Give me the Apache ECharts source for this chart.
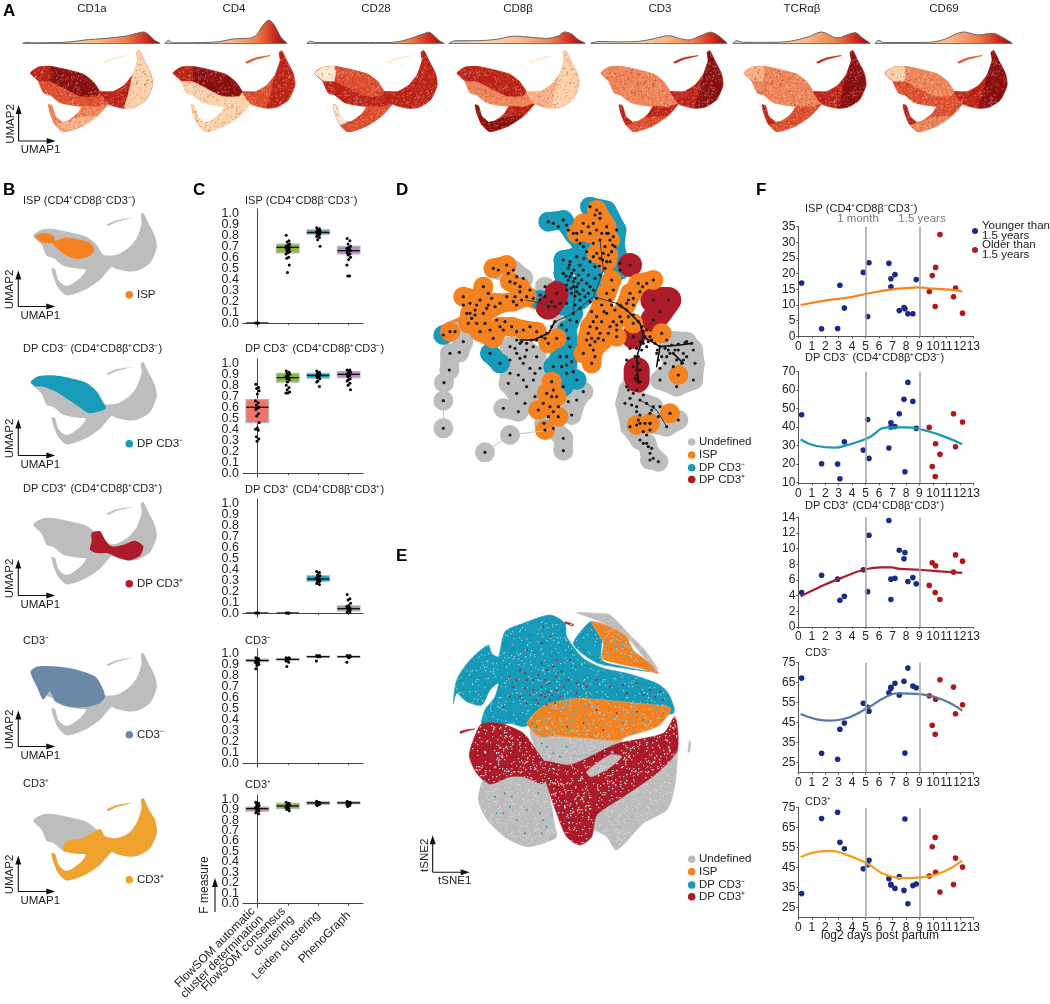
<!DOCTYPE html>
<html>
<head>
<meta charset="utf-8">
<title>Thymocyte clustering figure</title>
<script src="https://cdn.jsdelivr.net/npm/echarts@6/dist/echarts.min.js"></script>
<style>html,body{margin:0;padding:0;background:#fff}#chart{width:1050px;height:1004px}</style>
</head>
<body>
<div id="chart"></div>
<script>
// ---- panel A: markers and density ridges (x = fraction of range, y = relative density)
var markers = ['CD1a', 'CD4', 'CD28', 'CD8β', 'CD3', 'TCRαβ', 'CD69'];
var ridgeCD1a = [[0,0],[.03,.03],[.06,.01],[.25,.02],[.35,.05],[.45,.13],[.6,.2],[.75,.3],[.83,.42],[.88,.48],[.92,.35],[.96,.12],[1,0]];
var ridgeCD4 = [[0,0],[.03,.12],[.06,.01],[.3,.02],[.45,.06],[.55,.17],[.65,.2],[.7,.22],[.75,.35],[.8,.75],[.85,1],[.9,.75],[.95,.25],[1,0]];
var ridgeCD28 = [[0,0],[.03,.08],[.06,.02],[.5,.02],[.6,.02],[.7,.1],[.78,.25],[.85,.4],[.89,.47],[.93,.3],[.97,.08],[1,0]];
var ridgeCD8b = [[0,0],[.05,.1],[.2,.1],[.35,.16],[.48,.3],[.6,.25],[.72,.2],[.8,.3],[.85,.48],[.9,.4],[.95,.15],[1,0]];
var ridgeCD3 = [[0,0],[.06,.07],[.2,.05],[.35,.07],[.45,.17],[.57,.32],[.65,.2],[.72,.13],[.8,.3],[.88,.47],[.93,.35],[1,0]];
var ridgeTCR = [[0,0],[.03,.1],[.07,.03],[.3,.03],[.42,.08],[.55,.27],[.646,.48],[.76,.22],[.89,.45],[.95,.2],[1,0]];
var ridgeCD69 = [[0,0],[.03,.12],[.06,.02],[.4,.03],[.5,.15],[.65,.48],[.75,.35],[.86,.42],[.93,.25],[1,0]];
var ridges = [ridgeCD1a, ridgeCD4, ridgeCD28, ridgeCD8b, ridgeCD3, ridgeTCR, ridgeCD69];

// UMAP outline and sub regions, in UMAP units of the plot
var umapOutline = [[100,168],[125,150],[160,148],[210,158],[260,172],[290,195],[310,225],[350,225],[385,205],[410,175],[425,130],[422,105],[430,100],[445,130],[465,170],[470,205],[450,250],[415,272],[385,275],[350,268],[335,262],[300,300],[255,330],[200,347],[175,325],[160,290],[155,265],[165,268],[175,300],[195,318],[212,315],[245,290],[258,270],[240,268],[190,258],[160,235],[140,228],[125,195]];
var umapStreak = [[320,135],[350,122],[395,115],[350,127],[325,138]];
var regLobe = [[100,168],[125,150],[160,148],[165,165],[160,195],[130,195],[118,185]];
var regCore = [[160,148],[210,158],[260,172],[290,195],[310,225],[300,240],[250,240],[200,215],[160,195],[165,165]];
var regMid = [[125,195],[130,195],[160,195],[200,215],[250,240],[300,240],[312,228],[335,262],[300,272],[258,270],[240,268],[190,258],[160,235],[140,228]];
var regWingIn = [[310,225],[350,225],[385,205],[410,175],[395,240],[385,275],[350,268],[335,262]];
var regWingOut = [[410,175],[425,130],[422,105],[430,100],[445,130],[465,170],[470,205],[450,250],[415,272],[385,275],[395,240]];
var regArmUp = [[335,262],[300,272],[258,270],[245,290],[235,305],[300,300]];
var regArmLow = [[235,305],[300,300],[255,330],[200,347],[175,325],[195,318],[212,315]];
var regTail = [[155,265],[165,268],[175,300],[195,318],[175,325],[160,290]];
var umapRegions = [regLobe, regCore, regMid, regWingIn, regWingOut, regArmUp, regArmLow, regTail, umapStreak];

// expression level (0..6) per region, same order as umapRegions
var levelCD1a = [5,6,4,5,1,3,2,3,0];
var levelCD4 = [5,6,1,4,5,1,1,1,4];
var levelCD28 = [0,4,5,5,5,4,4,0,0];
var levelCD8b = [5,5,3,2,1,5,6,6,0];
var levelCD3 = [3,3,3,5,6,5,4,5,5];
var levelTCR = [2,3,3,5,6,4,4,5,5];
var levelCD69 = [1,3,4,5,6,4,3,5,4];
var markerLevels = [levelCD1a, levelCD4, levelCD28, levelCD8b, levelCD3, levelTCR, levelCD69];

// ---- panel B: gated populations on the UMAP
var gateISP = [[[105,170],[130,160],[160,168],[165,190],[135,190],[118,183]],
  [[160,190],[190,175],[230,178],[270,190],[283,210],[270,228],[230,238],[195,225],[170,205]]];
var gateDPneg = [[[92,160],[115,143],[160,140],[210,148],[260,163],[290,188],[305,213],[318,238],[300,248],[265,253],[235,233],[205,213],[165,188],[125,173],[105,173]]];
var gateDPpos = [[[275,193],[300,188],[315,213],[335,233],[370,228],[405,216],[430,233],[420,261],[385,275],[350,265],[320,253],[290,253],[270,243],[275,218]]];
var gateCD3neg = [[[92,155],[115,140],[165,140],[230,150],[285,170],[305,200],[315,230],[300,250],[260,262],[210,262],[165,245],[150,215],[130,240],[110,200],[100,180]]];
var gateCD3pos = [[[200,230],[250,220],[300,193],[315,215],[350,220],[390,205],[410,175],[425,130],[425,105],[432,103],[445,135],[465,165],[470,205],[450,250],[415,272],[385,275],[350,268],[335,262],[300,300],[255,330],[200,347],[175,325],[160,290],[155,265],[165,268],[175,300],[195,318],[212,315],[245,290],[258,270],[240,268],[190,258]],
  [[320,135],[350,122],[395,115],[350,127],[325,138]]];
var gateNames = ['ISP (CD4⁺CD8β⁻CD3⁻)', 'DP CD3⁻ (CD4⁺CD8β⁺CD3⁻)', 'DP CD3⁺ (CD4⁺CD8β⁺CD3⁺)', 'CD3⁻', 'CD3⁺'];
var gateShort = ['ISP', 'DP CD3⁻', 'DP CD3⁺', 'CD3⁻', 'CD3⁺'];
var gates = [gateISP, gateDPneg, gateDPpos, gateCD3neg, gateCD3pos];

// ---- panel C: F measure per method, each list holds the five populations
var methods = ['FlowSOM automatic\ncluster determination', 'FlowSOM consensus\nclustering', 'Leiden clustering', 'PhenoGraph'];
var boxFlowAuto = [[0,0,0],[.46,.60,.67],[0,0,0],[.925,.935,.945],[.885,.91,.925]];
var boxFlowCons = [[.64,.69,.72],[.83,.87,.91],[0,0,0],[.94,.945,.95],[.91,.935,.96]];
var boxLeiden = [[.81,.825,.85],[.865,.89,.91],[.29,.31,.34],[.965,.97,.975],[.95,.965,.975]];
var boxPheno = [[.63,.66,.70],[.87,.90,.925],[.02,.04,.065],[.965,.97,.975],[.955,.965,.975]];
var dotsFlowAuto = [[0,0,0],
  [.81,.78,.77,.75,.72,.66,.64,.62,.60,.59,.58,.54,.52,.46,.41,.40,.39,.33,.31,.29],
  [0,0,0],
  [.96,.95,.95,.94,.93,.92,.92,.91,.90,.89,.86],
  [.97,.96,.95,.94,.93,.92,.91,.90,.89,.88,.87,.86]];
var dotsFlowCons = [[.80,.75,.74,.72,.71,.70,.70,.69,.69,.68,.68,.67,.66,.65,.64,.63,.60,.59,.53,.46],
  [.93,.92,.91,.90,.89,.88,.87,.86,.85,.83,.80,.78,.76,.74,.73,.73],
  [0,0,0],
  [.96,.96,.95,.95,.94,.93,.92,.88],
  [.97,.96,.95,.94,.93,.92,.91,.90,.89]];
var dotsLeiden = [[.87,.86,.85,.84,.83,.83,.82,.82,.81,.80,.79,.78,.76,.70],
  [.93,.92,.91,.90,.89,.89,.88,.87,.86,.84,.83,.79],
  [.38,.37,.35,.34,.33,.32,.31,.30,.29,.28,.27,.26],
  [.98,.98,.97,.97,.97,.93],
  [.98,.97,.97,.96,.96,.95,.95,.94]];
var dotsPheno = [[.77,.75,.72,.70,.69,.68,.67,.66,.66,.65,.64,.63,.62,.60,.58,.53,.43,.43],
  [.94,.94,.93,.92,.91,.90,.89,.88,.86,.85,.84,.82,.80,.76],
  [.17,.13,.12,.09,.07,.06,.05,.04,.03,.02,.01,.01],
  [.98,.98,.97,.97,.96,.92],
  [.98,.97,.97,.96,.96,.95,.94,.93]];
var fTicks = [0,.1,.2,.3,.4,.5,.6,.7,.8,.9,1];

// ---- panel D: minimum spanning tree nodes by cluster label
var treeUndefined = [[70,715],[70,632],[72,578],[88,540],[90,490],[118,487],[130,455],[105,425],[195,787],[270,735],[430,782],[430,745],[400,715],[372,700],[250,655],[295,665],[315,640],[290,610],[265,580],[270,550],[295,555],[320,590],[345,620],[340,570],[310,520],[270,510],[290,490],[320,480],[350,500],[360,535],[300,460],[270,470],[455,675],[470,630],[490,605],[445,635],[235,240],[280,240],[310,265],[375,290],[625,600],[615,640],[635,645],[630,710],[660,750],[680,760],[690,790],[715,815],[690,810],[660,700],[690,700],[700,650],[740,710],[775,690],[650,665],[740,450],[800,455],[820,480],[825,520],[820,570],[770,590],[720,570],[790,510],[745,480],[760,530],[425,405]];
var treeTeal = [[385,95],[430,90],[460,130],[490,170],[520,200],[590,120],[585,170],[510,50],[600,220],[430,210],[470,200],[490,240],[430,250],[460,290],[500,280],[520,300],[480,330],[440,300],[600,240],[360,330],[460,370],[440,420],[420,500],[450,470],[440,550],[470,570],[430,590],[400,530],[210,490],[240,520],[70,435]];
var treeRed = [[630,225],[700,330],[745,330],[720,365],[700,390],[650,540],[650,570],[385,350],[410,310],[640,440]];
var treeOrange = [[530,60],[540,85],[560,110],[490,100],[470,130],[510,130],[540,150],[570,150],[565,195],[530,190],[560,215],[260,225],[220,235],[270,275],[300,290],[320,320],[280,335],[240,340],[190,290],[130,320],[180,330],[150,370],[190,370],[145,400],[180,425],[220,445],[240,410],[275,410],[310,420],[90,425],[350,425],[410,445],[385,460],[575,270],[560,310],[545,345],[530,380],[510,410],[500,450],[520,480],[490,490],[515,520],[560,370],[570,410],[550,450],[600,380],[620,340],[655,280],[700,270],[630,310],[590,440],[640,400],[725,430],[395,575],[380,610],[410,620],[355,660],[390,650],[415,680],[375,720],[775,555],[750,670],[690,700],[650,705]];
var treeExtraDots = [[400,100],[415,110],[440,105],[445,120],[470,150],[480,160],[500,185],[520,160],[530,120],[545,130],[555,170],[575,185],[570,215],[555,235],[540,255],[525,230],[510,215],[450,215],[445,235],[455,250],[445,270],[465,265],[475,280],[455,310],[470,305],[490,300],[495,320],[510,335],[530,325],[440,340],[465,345],[480,355],[450,390],[470,395],[445,445],[440,500],[455,515],[425,530],[440,525],[460,545],[300,305],[285,320],[260,320],[225,350],[205,345],[170,345],[165,360],[130,345],[155,385],[170,400],[195,400],[210,420],[250,420],[290,425],[330,410],[340,325],[360,315],[375,320],[395,335],[405,350],[420,340],[515,365],[520,395],[530,415],[535,445],[510,465],[525,500],[575,345],[585,360],[580,395],[565,430],[605,350],[640,345],[660,305],[625,380],[290,450],[305,455],[320,460],[335,450],[350,450],[365,440],[380,430],[395,410],[405,395],[375,445],[340,470],[315,500],[285,475],[300,505],[330,535],[310,570],[345,550],[600,345],[620,360],[640,375],[655,395],[665,410],[670,425],[675,440],[660,455],[650,475],[645,500],[655,520],[650,555],[660,575],[690,440],[705,460],[720,470],[735,475],[755,465],[775,462],[795,458],[815,460],[710,490],[715,510],[720,535],[740,500],[760,490],[770,510],[785,520],[765,480],[680,470],[630,475],[620,510],[640,610],[660,630],[680,640],[650,650],[720,650],[660,675],[690,670],[670,725],[680,735],[695,775],[700,805],
  [450,260],[460,275],[470,290],[440,285],[452,295],[465,318],[478,312],[485,270],[475,255],[462,240],[448,225],[438,258],[480,225],[492,205],[505,255],[510,290],[505,310],[525,265],[540,205],[550,190],[560,130],[520,100],[505,110],[485,125],[540,70],[525,75],[565,130],[580,140],[578,165],[548,210],[538,228],[580,300],[570,330],[552,365],[545,395],[540,430],[525,455],[505,430],[515,445],[590,405],[605,395],[590,420],[625,330],[640,325],[668,290],[680,280],[150,340],[140,370],[165,375],[205,310],[215,325],[200,355],[230,390],[255,395],[290,345],[305,330],[330,300],[285,280],[265,250],[290,260],[400,600],[395,620],[370,640],[400,665],[385,680],[415,650],[680,420],[695,450],[712,480],[725,500],[735,520],[750,490],[775,480],[790,490],[800,500],[665,480],[640,530],[660,540],[645,565],[655,500],[670,460],[685,455],[620,590],[650,600],[670,615],[630,625],[695,660],[715,680],[655,690],[675,700],[690,720],[670,760],[685,770]];

// thick cluster branches (one list per cluster, each a run of nodes)
var branchUndefined = [[[88,540],[90,490],[118,487],[130,455],[105,425]],[[430,782],[430,745],[400,715],[372,700]],[[250,655],[295,665],[315,640],[345,620]],[[265,580],[290,610],[320,590],[345,620]],[[265,580],[270,550],[270,510],[270,470],[300,460],[320,480],[350,500],[360,535]],[[295,555],[340,570],[320,590]],[[310,520],[340,570]],[[455,675],[470,630],[490,605]],[[445,635],[470,630]],[[235,240],[280,240],[310,265]],[[625,600],[615,640],[630,710],[660,750],[680,760],[690,790],[715,815]],[[635,645],[660,700],[660,750]],[[650,665],[690,700],[740,710],[775,690]],[[700,650],[740,710]],[[740,450],[800,455],[820,480],[825,520],[820,570],[770,590],[720,570],[760,530],[790,510],[825,520]],[[745,480],[760,530]],[[265,510],[330,510],[345,600]],[[625,620],[700,650]]];
var branchTeal = [[[385,95],[430,90],[460,130],[490,170],[520,200]],[[590,120],[585,170],[600,220]],[[510,50],[560,60],[590,120]],[[430,210],[470,200],[490,240],[500,280],[520,300]],[[430,210],[430,250],[440,300],[480,330],[520,300]],[[460,290],[480,330]],[[360,330],[400,330],[460,370],[440,420],[450,470],[440,550],[470,570]],[[420,500],[400,530],[430,590]],[[210,490],[240,520]],[[460,130],[520,200],[600,240]],[[470,220],[520,260]]];
var branchRed = [[[700,330],[745,330],[720,365],[700,390]],[[650,540],[650,570]],[[385,350],[410,310]]];
var branchOrange = [[[530,60],[560,110],[570,150],[565,195],[560,215]],[[490,100],[510,130],[540,150],[565,195]],[[470,130],[510,130]],[[530,190],[540,150]],[[220,235],[260,225],[270,275],[300,290],[320,320],[350,330]],[[130,320],[180,330],[240,340],[280,335],[320,320]],[[190,290],[180,330],[150,370],[145,400],[180,425],[220,445]],[[190,370],[240,340]],[[190,370],[180,425]],[[240,410],[275,410],[310,420],[350,425]],[[90,425],[145,400]],[[240,410],[220,445]],[[410,445],[385,460]],[[575,270],[560,310],[545,345],[530,380],[510,410],[500,450],[490,490]],[[545,345],[560,370],[570,410],[550,450],[520,480],[515,520]],[[530,380],[520,480]],[[600,380],[620,340],[655,280],[700,270]],[[570,410],[600,380]],[[630,310],[620,340]],[[640,400],[660,420],[725,430]],[[395,575],[380,610],[355,660],[390,680],[415,680]],[[410,620],[415,680]],[[380,610],[410,620]]];
var edgesLight = [[[70,715],[70,632],[72,578],[88,540]],[[195,787],[270,735],[372,722],[400,715]],[[690,790],[660,750]]];
var edgesDark = [[[590,340],[620,360],[660,400],[670,440],[650,500],[655,580]],[[670,440],[720,470],[780,465],[815,460]],[[720,470],[710,530]],[[760,490],[790,520]],[[300,450],[340,450],[385,430],[405,395]]];
var edgesMid = [[[405,395],[460,370],[520,320],[590,340]],[[660,630],[710,660],[740,710]],[[520,320],[550,240],[540,150]],[[460,370],[465,290]],[[320,330],[405,350]]];

// ---- panel E: t-SNE regions by cluster label
var tsneGrayLeft = [[205,655],[225,590],[310,560],[400,590],[425,680],[435,740],[440,770],[400,790],[350,800],[290,775],[240,730],[215,690]];
var tsneGrayRight = [[800,480],[800,570],[790,640],[770,690],[700,730],[620,810],[590,770],[545,740],[560,690],[650,620],[740,530]];
var tsneGrayTop = [[500,98],[560,100],[600,105],[660,165],[700,205],[745,270],[700,230],[650,170],[560,120]];
var tsneGrayMid = [[360,450],[430,440],[560,450],[640,470],[620,500],[530,540],[470,565],[400,540]];
var tsneGrayHole = [[530,575],[600,525],[635,530],[600,562],[545,590]];
var tsneTealMain = [[130,370],[140,300],[180,240],[235,195],[245,220],[265,230],[285,155],[340,130],[420,105],[465,130],[470,170],[520,235],[580,265],[650,280],[740,310],[775,340],[790,400],[600,400],[480,400],[400,420],[340,440],[300,430],[260,440],[215,440],[225,390],[255,350],[265,310],[240,330],[215,375],[170,365],[140,340]];
var tsneTealTop = [[490,190],[520,145],[545,125],[575,170],[575,240],[640,260],[720,275],[600,258],[560,248],[510,215]];
var tsneOrangeTop = [[545,125],[600,140],[650,170],[670,210],[720,250],[745,280],[690,265],[620,250],[575,235],[580,190]];
var tsneOrangeMid = [[352,430],[400,378],[500,355],[600,362],[700,372],[782,385],[745,438],[650,470],[620,482],[560,478],[490,472],[430,468],[390,472]];
var tsneRedLeft = [[178,525],[198,460],[215,432],[270,430],[340,460],[385,520],[410,560],[400,610],[340,590],[300,590],[240,612],[200,580]];
var tsneRedArm = [[395,545],[480,555],[620,492],[760,460],[795,410],[802,510],[740,580],[640,650],[560,705],[545,770],[510,795],[470,770],[440,700],[410,610]];
var tsneRedStreak = [[150,455],[170,449],[195,447],[172,453],[152,460]];
var tsneRedStreakTop = [[465,125],[490,133],[488,138],[465,129]];
var tsneGrayStreak = [[838,482],[842,490],[838,516],[834,516],[837,490]];
var tsneRedSpecks = [[300,290],[320,300],[345,280],[370,300],[395,250],[410,270],[430,260],[440,290],[420,310],[395,320],[370,330],[345,325],[405,350],[425,345],[440,330],[460,320],[475,300],[500,310],[530,320],[560,300],[600,320],[640,315],[680,310],[720,330],[750,335],[400,140],[420,170],[480,240],[380,360],[350,370],[330,350],[360,345],[385,370],[415,335],[300,350],[280,380],[350,210],[395,190],[440,240],[455,275],[385,285],[330,270],[310,320],[350,300],[405,300],[435,370],[410,375],[392,345],[420,360],[450,350],[500,340],[650,340],[700,345],[735,350],[760,360],[560,390],[620,400],[680,395],[520,430],[470,440],[580,450]];
var tsneTealSpecks = [[285,640],[255,650],[300,680],[320,720],[280,700],[390,700],[400,720],[410,740],[395,760],[345,760],[260,700],[305,650],[350,690],[420,610],[385,640],[410,500],[395,490],[430,520],[450,530],[470,500],[380,440],[365,430],[640,430],[700,420],[760,400]];

// ---- panel F: frequency versus age, one value per donor
var youngX = [0.25,1.73,2.92,3.09,3.42,4.83,5.15,5.25,6.73,6.88,6.88,7.18,7.5,7.85,7.92,8.14,8.51,8.76];
var oldX = [9.73,9.95,10.17,10.2,10.52,11.53,11.68,12.2];
var ispYoung = [17,2.4,2.5,16.3,9,20.4,6.3,23.5,23.3,18.4,15.8,19.7,8.2,9.2,8.8,7.2,7.2,18.1];
var ispOld = [14.3,19.4,9.5,22,32.5,12.6,15.4,7.4];
var ispCurve = [[.17,10],[2.1,11.5],[3.6,12.3],[5.1,13.6],[6.8,14.9],[8,15.4],[8.9,15.6],[10,15.2],[11.3,14.9],[12.18,14.3]];
var dpNegYoung = [46.7,20.1,19.9,12,32,27.5,44.1,23,28.6,42.3,40,40.3,47.2,55,15.8,64.2,53.9,39.3];
var dpNegOld = [39.8,18.6,13.2,30.9,25.2,47.2,29.3,42.7];
var dpNegCurve = [[.17,33.3],[1.36,29.7],[2.7,28.8],[3.6,30.2],[5.1,33.8],[6.7,39.8],[8.05,39.8],[9.5,38],[11,34.4],[12.18,30.6]];
var dpPosYoung = [4.4,6.6,6.1,3.4,3.9,7.3,4.5,11.7,13.6,6.1,3.5,6.2,9.8,8.7,9.5,5.8,6.3,5.5];
var dpPosOld = [5.3,8.2,4.4,7.8,3.5,7,9.2,8.4];
var dpPosCurve = [[.17,3.9],[1.6,5.1],[3.1,6.2],[5.1,7.4],[6.1,7.6],[6.9,7.6],[7.55,7.4],[9,7.3],[10.5,7.1],[12.18,6.9]];
var cd3NegYoung = [67.3,29.7,26.7,41.7,44.8,54.7,52.7,50.7,60,62.7,62.2,64.7,58.8,65.7,29.8,72.3,63.3,62.5];
var cd3NegOld = [58.5,43.7,39.2,56.7,66.5,62.8,49.5,54];
var cd3NegCurve = [[.17,49.3],[1.36,46.7],[2.35,46],[3.3,46.7],[5.1,52.2],[6.55,58],[7.55,59.7],[9.05,59.3],[10.3,57.5],[11.3,54.7],[12.18,51]];
var cd3PosYoung = [31.9,69.6,72.7,57.6,54.4,44.4,46.4,48.6,39.4,36.5,36.2,34.5,40.4,33.5,69.3,26.8,35.9,36.7];
var cd3PosOld = [40.7,55.4,60.1,42.6,32.7,36.4,49.7,45.2];
var cd3PosCurve = [[.17,50.2],[1.36,52.8],[2.35,53.3],[3.3,52.1],[5.1,47],[6.55,41.2],[8.05,39.7],[9.25,40.2],[10.8,42.9],[12.18,48.4]];
var ageYTicks = [[0,5,10,15,20,25,30,35],[10,20,30,40,50,60,70],[0,2,4,6,8,10,12,14],[25,35,45,55,65,75],[25,35,45,55,65,75]];
var ageMonths = [5, 9];

// ---- styles
var FONT = '"Liberation Sans", Arial, sans-serif';
var GRAY = '#bdbdbd', ORANGE = '#f58220', TEAL = '#189bb8', RED = '#ae1c2b';
var heatRamp = ['#fdead2','#fcd2aa','#f9b085','#ef8557','#dd4f2e','#bd2418','#8a0f0f'];
var gateColors = [ORANGE, TEAL, RED, '#6c88a9', '#f0a22e'];
var methodColors = ['#f3736b','#86b93b','#19a5b8','#b785cf'];
var curveColors = ['#f5821f','#1497b5','#a81e2c','#56799f','#f59c1a'];

// grainy tile so the flow cytometry clouds do not look flat, purely a fill style
function speckle(base, colors, count) {
  var c = document.createElement('canvas');
  c.width = 127; c.height = 113;
  var g = c.getContext('2d');
  if (base) { g.fillStyle = base; g.fillRect(0, 0, 127, 113); }
  function frac(v) { return v - Math.floor(v); }
  for (var i = 0; i < count; i++) {
    g.fillStyle = colors[i % colors.length];
    g.fillRect(Math.floor(frac(Math.sin(i * 12.9898) * 43758.5453) * 127), Math.floor(frac(Math.sin(i * 78.233) * 24634.6345) * 113), 1.3, 1.3);
  }
  return {image: c, repeat: 'repeat'};
}

var grids = [], xAxes = [], yAxes = [], series = [], graphics = [];

function addGrid(rect, xa, ya) {
  grids.push(Object.assign({containLabel: false}, rect));
  var i = grids.length - 1;
  xAxes.push(Object.assign({gridIndex: i, type: 'value', splitLine: {show: false}}, xa));
  yAxes.push(Object.assign({gridIndex: i, type: 'value', splitLine: {show: false}}, ya));
  return i;
}

function polygonSeries(g, polys, fill, stroke, smooth) {
  polys.forEach(function (pts) {
    series.push({
      type: 'custom', xAxisIndex: g, yAxisIndex: g, silent: true, clip: false,
      data: [pts[0]],
      renderItem: function (params, api) {
        return {type: 'polygon', shape: {points: pts.map(function (p) { return api.coord(p); }), smooth: smooth === undefined ? .25 : smooth},
          style: {fill: fill, stroke: stroke || null, lineWidth: stroke ? 0.6 : 0}};
      }
    });
  });
}

function branchSeries(g, lines, color, width, z) {
  series.push({
    type: 'custom', xAxisIndex: g, yAxisIndex: g, silent: true, clip: false, z: z || 2,
    data: lines.map(function (e, i) { return [e[0][0], e[0][1], i]; }),
    renderItem: function (params, api) {
      var e = lines[api.value(2)];
      return {type: 'polyline', shape: {points: e.map(function (p) { return api.coord(p); })},
        style: {stroke: color, lineWidth: width, fill: null, lineCap: 'round', lineJoin: 'round'}};
    }
  });
}

function txt(x, y, str, o) {
  o = o || {};
  graphics.push({
    type: 'text', x: x, y: y, rotation: o.rot || 0, silent: true, z: 50,
    style: {text: str, fill: o.color || '#222', font: (o.weight || 'normal') + ' ' + (o.size || 11.5) + 'px ' + (o.family || FONT),
      textAlign: o.align || 'left', textVerticalAlign: 'middle'}
  });
}
function dot(x, y, color, r) {
  graphics.push({type: 'circle', shape: {cx: x, cy: y, r: r || 3.7}, style: {fill: color}, silent: true, z: 50});
}
function arrow(x1, y1, x2, y2) {
  var ux = x2 > x1 ? 1 : x2 < x1 ? -1 : 0, uy = y2 > y1 ? 1 : y2 < y1 ? -1 : 0;
  graphics.push({type: 'line', shape: {x1: x1, y1: y1, x2: x2, y2: y2}, style: {stroke: '#111', lineWidth: 1.1}, silent: true, z: 50});
  graphics.push({type: 'polygon', shape: {points: [[x2 + ux * 4, y2 + uy * 4], [x2 - uy * 3 - ux * 5, y2 + ux * 3 - uy * 5], [x2 + uy * 3 - ux * 5, y2 - ux * 3 - uy * 5]]}, style: {fill: '#111'}, silent: true, z: 50});
}
function axesIcon(x, y, xName, yName, wide, high) {
  arrow(x, y, x + wide, y);
  arrow(x, y, x, y - high);
  txt(x + 22, y + 9, xName, {align: 'center', size: 11.5});
  txt(x - 8, y - 17, yName, {align: 'center', size: 11.5, rot: Math.PI / 2});
}

// ---- panel A
var ridgeLeft = [23, 165, 307, 449, 591, 733, 875];
var ridgeWidth = [137, 122, 137, 136, 136, 137, 137];
var umapLeft = [30.5, 173, 315, 457, 601, 744, 885];
var titleCenter = [92, 234, 376, 518, 660, 802, 944];
var umapX = {show: false, min: 100, max: 470}, umapY = {show: false, min: 100, max: 347, inverse: true};
var grainTile = speckle(null, ['rgba(255,255,255,.22)', 'rgba(120,0,0,.22)', 'rgba(255,255,255,.16)'], 3200);

markers.forEach(function (name, m) {
  txt(titleCenter[m], 9, name, {align: 'center', size: 11.5});
  var g = addGrid({left: ridgeLeft[m], width: ridgeWidth[m], top: 20, height: 23},
    {min: 0, max: 1, axisLabel: {show: false}, axisTick: {show: false}, axisLine: {show: true, lineStyle: {color: '#777', width: 1}}},
    {min: 0, max: 1, show: false});
  series.push({
    type: 'line', xAxisIndex: g, yAxisIndex: g, data: ridges[m], smooth: 0.3, symbol: 'none', silent: true,
    lineStyle: {color: '#666', width: 1},
    areaStyle: {opacity: 1, color: new echarts.graphic.LinearGradient(0, 0, 1, 0, [
      {offset: 0, color: '#c9c5c0'}, {offset: .25, color: '#f6d9b9'}, {offset: .55, color: '#f9b585'},
      {offset: .75, color: '#ef7f4a'}, {offset: .9, color: '#c92a1c'}, {offset: 1, color: '#8a0f0f'}])}
  });
  var u = addGrid({left: umapLeft[m], width: 122, top: 50.7, height: 81}, umapX, umapY);
  polygonSeries(u, [umapOutline], heatRamp[markerLevels[m][2]], heatRamp[markerLevels[m][2]]);
  umapRegions.forEach(function (reg, r) {
    var col = heatRamp[markerLevels[m][r]];
    polygonSeries(u, [reg], col, col, .15);
  });
  polygonSeries(u, [umapOutline], grainTile);
});
axesIcon(18.6, 141, 'UMAP1', 'UMAP2', 33, 32);
txt(3, 11, 'A', {size: 17, weight: 'bold', color: '#000'});

// ---- panel B
var gateTop = [213, 362, 502, 653, 798];
var gateTitleY = [201, 349, 489, 641, 784];
gates.forEach(function (polys, i) {
  txt(23, gateTitleY[i], gateNames[i], {size: 11});
  var g = addGrid({left: 33.3, width: 123.4, top: gateTop[i], height: 82.4}, umapX, umapY);
  polygonSeries(g, [umapOutline, umapStreak], GRAY);
  polygonSeries(g, polys, gateColors[i]);
  dot(129.3, gateTop[i] + 81.7, gateColors[i], 3.8);
  txt(137, gateTop[i] + 81.7, gateShort[i], {size: 11.5});
  axesIcon(18.3, gateTop[i] + 93.5, 'UMAP1', 'UMAP2', 33, 32);
});
txt(3, 190, 'B', {size: 17, weight: 'bold', color: '#000'});

// ---- panel C
var boxPanelTop = [213, 363, 503, 653, 799];
var boxTitleY = [201, 349, 490, 641, 785];
var boxes = [boxFlowAuto, boxFlowCons, boxLeiden, boxPheno];
var dotSets = [dotsFlowAuto, dotsFlowCons, dotsLeiden, dotsPheno];
var jitter = [-.05, .04, -.02, .06, 0, -.06, .03, -.03, .05, -.01];
var boxXMin = -0.47, boxXMax = 3.47, boxYMin = -0.036, boxYMax = 1.04;
gateNames.forEach(function (name, p) {
  txt(245, boxTitleY[p], name, {size: 11});
  var last = p === 4;
  var g = addGrid({left: 243, width: 120, top: boxPanelTop[p] - 4, height: 118},
    {min: boxXMin, max: boxXMax,
      axisLine: {lineStyle: {color: '#444', width: 1}},
      axisTick: {customValues: [0, 1, 2, 3], length: 2, lineStyle: {color: '#444'}},
      // the end values are blank stand-ins, echarts drops a neighbour of the first/last label otherwise
      axisLabel: last ? {customValues: [boxXMin, 0, 1, 2, 3, boxXMax], showMinLabel: false, showMaxLabel: false,
        formatter: function (v) { return methods[v] || ''; },
        rotate: 45, margin: 6, fontFamily: FONT, fontSize: 12, color: '#222', lineHeight: 11.5} : {show: false}},
    {min: boxYMin, max: boxYMax,
      axisLine: {show: true, lineStyle: {color: '#444', width: 1}},
      axisTick: {show: false},
      axisLabel: {customValues: [boxYMin].concat(fTicks, [boxYMax]), showMinLabel: false, showMaxLabel: false,
        margin: 4, fontFamily: FONT, fontSize: 12.5, color: '#222',
        formatter: function (v) { return v < 0 || v > 1 ? '' : v.toFixed(1); }}});
  var boxData = boxes.map(function (b, m) { return [m, b[p][0], b[p][1], b[p][2]]; });
  series.push({
    type: 'custom', xAxisIndex: g, yAxisIndex: g, silent: true, data: boxData,
    encode: {x: 0, y: [1, 2, 3]},
    renderItem: function (params, api) {
      var m = api.value(0);
      var a = api.coord([m - .37, api.value(3)]), b = api.coord([m + .37, api.value(1)]), med = api.coord([m, api.value(2)]);
      return {type: 'group', children: [
        {type: 'rect', shape: {x: a[0], y: a[1], width: b[0] - a[0], height: b[1] - a[1]},
          style: {fill: methodColors[m], stroke: '#b5b5b5', lineWidth: 1.2}},
        {type: 'line', shape: {x1: a[0], y1: med[1], x2: b[0], y2: med[1]}, style: {stroke: '#111', lineWidth: 1.3}}
      ]};
    }
  });
  var pts = [];
  dotSets.forEach(function (set, m) {
    set[p].forEach(function (v, j) { pts.push([m + jitter[j % jitter.length], v]); });
  });
  series.push({type: 'scatter', xAxisIndex: g, yAxisIndex: g, data: pts, symbolSize: 3, silent: true, itemStyle: {color: '#000', opacity: 1}, z: 5});
});
txt(205, 885, 'F measure', {align: 'center', size: 12, rot: Math.PI / 2});
arrow(215, 912, 215, 882);
txt(193, 190, 'C', {size: 17, weight: 'bold', color: '#000'});

// ---- panel D
var dTree = addGrid({left: 420, top: 190, width: 340, height: 290},
  {show: false, min: 0, max: 1020}, {show: false, min: 0, max: 870, inverse: true});
function blobs(data, color, size, z) {
  series.push({type: 'scatter', xAxisIndex: dTree, yAxisIndex: dTree, data: data, symbolSize: size, silent: true, z: z, itemStyle: {color: color, opacity: 1}});
}
blobs(treeUndefined, GRAY, 20, 2);
branchSeries(dTree, branchUndefined, GRAY, 19, 2);
blobs(treeTeal, TEAL, 20, 2);
branchSeries(dTree, branchTeal, TEAL, 19, 2);
blobs(treeRed, RED, 24, 2);
branchSeries(dTree, branchRed, RED, 26, 2);
blobs(treeOrange, ORANGE, 20, 2);
branchSeries(dTree, branchOrange, ORANGE, 19, 2);
branchSeries(dTree, edgesLight, '#c4c4c4', 1, 3);
branchSeries(dTree, edgesMid, '#3a3a3a', 1, 3);
branchSeries(dTree, edgesDark, '#111', 1.6, 3);
series.push({type: 'scatter', xAxisIndex: dTree, yAxisIndex: dTree, silent: true, z: 4, symbolSize: 3.2, itemStyle: {color: '#1a1a1a', opacity: 1},
  data: treeUndefined.concat(treeTeal, treeRed, treeOrange, treeExtraDots)});
var clusterNames = ['Undefined', 'ISP', 'DP CD3⁻', 'DP CD3⁺'];
var clusterColors = [GRAY, ORANGE, TEAL, RED];
[442, 455, 467.7, 479.5].forEach(function (y, i) {
  dot(691.7, y, clusterColors[i], 3.8);
  txt(699, y, clusterNames[i], {size: 11.5});
});
txt(396, 190, 'D', {size: 17, weight: 'bold', color: '#000'});

// ---- panel E
var eMap = addGrid({left: 410, top: 580, width: 370, height: 320},
  {show: false, min: 0, max: 1110}, {show: false, min: 0, max: 960, inverse: true});
var tealTile = speckle(TEAL, ['#7fc8d8', '#0f8aa8', '#0f8aa8', '#8fd0dd'], 900);
var redTile = speckle(RED, ['#d8cfcf', '#c9c3c3', '#8d1522', '#8d1522', '#e6e6e6'], 1400);
var orangeTile = speckle(ORANGE, ['#5fb0bf', '#c8c1b6', '#ef9a3a', '#d77a2a'], 2200);
var grayTile = speckle(GRAY, ['#c9c9c9', '#d6d6d6', '#b2b2b2'], 1800);
polygonSeries(eMap, [tsneGrayLeft, tsneGrayRight, tsneGrayTop, tsneGrayStreak], grayTile, GRAY);
polygonSeries(eMap, [tsneTealMain, tsneTealTop], tealTile, TEAL);
polygonSeries(eMap, [tsneOrangeTop], orangeTile, '#f2a55a');
polygonSeries(eMap, [tsneGrayMid], grayTile, '#c9bfb0');
polygonSeries(eMap, [tsneOrangeMid], orangeTile, '#f2a55a');
polygonSeries(eMap, [tsneRedLeft, tsneRedArm, tsneRedStreak, tsneRedStreakTop], redTile, RED);
polygonSeries(eMap, [tsneGrayHole], grayTile, '#c7a5a5');
series.push({type: 'scatter', xAxisIndex: eMap, yAxisIndex: eMap, data: tsneRedSpecks, symbolSize: 2, silent: true, z: 3, itemStyle: {color: RED, opacity: 1}});
series.push({type: 'scatter', xAxisIndex: eMap, yAxisIndex: eMap, data: tsneTealSpecks, symbolSize: 2, silent: true, z: 3, itemStyle: {color: TEAL, opacity: 1}});
[859.3, 871.7, 885, 896.7].forEach(function (y, i) {
  dot(691.7, y, clusterColors[i], 3.8);
  txt(699, y, clusterNames[i], {size: 11.5});
});
axesIcon(432.7, 872.3, 'tSNE1', 'tSNE2', 33, 33);
txt(396, 556, 'E', {size: 17, weight: 'bold', color: '#000'});

// ---- panel F
var ageSets = [
  [ispYoung, ispOld, ispCurve], [dpNegYoung, dpNegOld, dpNegCurve], [dpPosYoung, dpPosOld, dpPosCurve],
  [cd3NegYoung, cd3NegOld, cd3NegCurve], [cd3PosYoung, cd3PosOld, cd3PosCurve]];
var ageGrid = [
  {top: 226.7, height: 109.6, min: 0, max: 35},
  {top: 371.7, height: 111.6, min: 9.5, max: 70},
  {top: 517.3, height: 109.6, min: 0, max: 14},
  {top: 662.7, height: 110, min: 20, max: 75},
  {top: 807.7, height: 110, min: 19.8, max: 75}];
var ageTitleY = [209, 358, 506, 653, 802];
ageSets.forEach(function (set, p) {
  var a = ageGrid[p];
  txt(805, ageTitleY[p], gateNames[p], {size: 11});
  var g = addGrid({left: 798.3, width: 175, top: a.top, height: a.height},
    {min: 0, max: 13, interval: 1,
      axisLine: {lineStyle: {color: '#555', width: 1}},
      axisTick: {length: 2, lineStyle: {color: '#555'}},
      axisLabel: {margin: 4, fontFamily: FONT, fontSize: 12, color: '#222', showMinLabel: true, showMaxLabel: true}},
    {min: a.min, max: a.max,
      axisLine: {show: true, lineStyle: {color: '#555', width: 1}},
      axisTick: {customValues: ageYTicks[p], length: 2, lineStyle: {color: '#555'}},
      axisLabel: {customValues: ageYTicks[p], margin: 3, fontFamily: FONT, fontSize: 12, color: '#222', showMinLabel: true, showMaxLabel: true}});
  series.push({
    type: 'line', xAxisIndex: g, yAxisIndex: g, data: set[2], smooth: true, symbol: 'none', silent: true, z: 4,
    lineStyle: {color: curveColors[p], width: 2.2},
    markLine: {silent: true, symbol: 'none', animation: false, label: {show: false},
      lineStyle: {color: '#a8a8a8', width: 1.6, type: 'solid'},
      data: ageMonths.map(function (x) { return {xAxis: x}; })}
  });
  series.push({type: 'scatter', xAxisIndex: g, yAxisIndex: g, symbolSize: 5.6, silent: true, z: 3, itemStyle: {color: '#1b2a86', opacity: 1},
    data: youngX.map(function (x, i) { return [x, set[0][i]]; })});
  series.push({type: 'scatter', xAxisIndex: g, yAxisIndex: g, symbolSize: 5.6, silent: true, z: 3, itemStyle: {color: '#b01818', opacity: 1},
    data: oldX.map(function (x, i) { return [x, set[1][i]]; })});
});
txt(858, 219, '1 month', {align: 'center', size: 11.5, color: '#777'});
txt(922, 219, '1.5 years', {align: 'center', size: 11.5, color: '#777'});
dot(975, 231, '#1b2a86', 3);
dot(975, 250, '#b01818', 3);
txt(982, 226, 'Younger than', {size: 11.5});
txt(982, 236, '1.5 years', {size: 11.5});
txt(982, 245, 'Older than', {size: 11.5});
txt(982, 254.5, '1.5 years', {size: 11.5});
txt(880, 936, 'log2 days post partum', {align: 'center', size: 12});
txt(756, 190, 'F', {size: 17, weight: 'bold', color: '#000'});

var chart = echarts.init(document.getElementById('chart'), null, {renderer: 'canvas'});
chart.setOption({
  animation: false,
  backgroundColor: '#fff',
  grid: grids, xAxis: xAxes, yAxis: yAxes, series: series, graphic: graphics
});
</script>
</body>
</html>
